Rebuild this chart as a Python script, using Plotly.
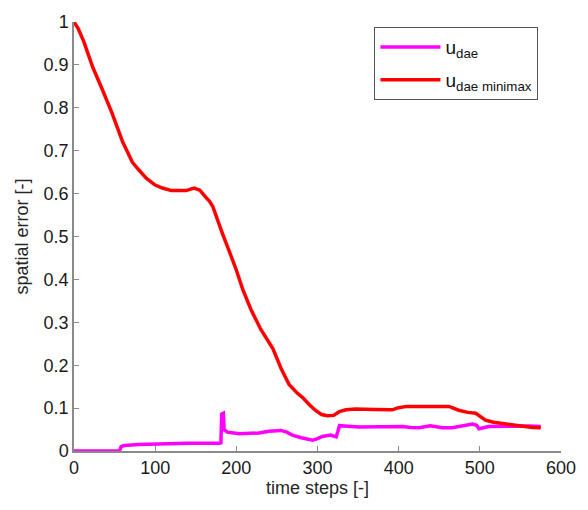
import plotly.graph_objects as go

# Red curve: u_dae minimax
red_x = [0, 5, 12, 23, 35, 47, 60, 72, 80, 89, 100, 109, 120, 130, 138, 148, 155, 163, 167, 171,
         175, 183, 191, 200, 208, 218, 230, 245, 255, 265, 275, 282, 290, 298, 305, 312, 320, 327,
         335, 347, 370, 392, 400, 410, 440, 462, 474, 485, 495, 507, 517, 528, 540, 552, 565, 575]
red_y = [1.0, 0.985, 0.955, 0.895, 0.842, 0.787, 0.72, 0.673, 0.655, 0.636, 0.62, 0.613, 0.607,
         0.607, 0.607, 0.613, 0.608, 0.590, 0.582, 0.570, 0.548, 0.506, 0.467, 0.422, 0.376, 0.330,
         0.284, 0.239, 0.193, 0.155, 0.135, 0.124, 0.108, 0.094, 0.085, 0.082, 0.083, 0.092, 0.096,
         0.098, 0.097, 0.096, 0.101, 0.104, 0.104, 0.104, 0.095, 0.090, 0.088, 0.072, 0.067, 0.064,
         0.060, 0.057, 0.055, 0.054]

# Magenta curve: u_dae
mag_x = [0, 56, 58, 62, 80, 105, 140, 179, 181, 182, 184, 185, 189, 204, 228, 240, 255, 262, 269,
         280, 294, 300, 306, 316, 323, 325, 327, 351, 370, 392, 405, 415, 425, 439, 454, 466, 480,
         491, 496, 499, 511, 530, 544, 560, 575]
mag_y = [0.0, 0.0, 0.01, 0.013, 0.015, 0.017, 0.018, 0.018, 0.019, 0.086, 0.088, 0.05, 0.044, 0.040,
         0.042, 0.046, 0.048, 0.044, 0.037, 0.031, 0.025, 0.029, 0.034, 0.037, 0.033, 0.045, 0.059,
         0.056, 0.057, 0.058, 0.057, 0.055, 0.054, 0.059, 0.054, 0.054, 0.058, 0.063, 0.060, 0.052,
         0.057, 0.058, 0.059, 0.058, 0.057]

x_ticks = [0, 100, 200, 300, 400, 500, 600]
y_ticks = [0, 0.1, 0.2, 0.3, 0.4, 0.5, 0.6, 0.7, 0.8, 0.9, 1]

FONT = "Liberation Sans, Arial, sans-serif"

fig = go.Figure()
fig.add_trace(go.Scatter(x=mag_x, y=mag_y, mode="lines", name="u<sub>dae</sub>",
                         legendgroup="a",
                         line=dict(color="#FF00FF", width=3.5)))
fig.add_trace(go.Scatter(x=red_x, y=red_y, mode="lines", name="u<sub>dae minimax</sub>",
                         legendgroup="b",
                         line=dict(color="#FF0000", width=3.5)))

axis_common = dict(
    showline=True, linecolor="#8a8a8a", linewidth=1.5,
    ticks="inside", ticklen=5, tickcolor="#8a8a8a", tickwidth=1.2,
    showgrid=False, zeroline=False, mirror=False,
    tickfont=dict(family=FONT, size=18, color="#1a1a1a"),
)

fig.update_layout(
    width=588, height=510,
    margin=dict(l=74, r=26, t=13, b=59),
    paper_bgcolor="white", plot_bgcolor="white",
    font=dict(family=FONT, color="#1a1a1a"),
    xaxis=dict(range=[0, 600], tickvals=x_ticks,
               title=dict(text="time steps [-]", font=dict(family=FONT, size=18, color="#262626"),
                          standoff=3),
               **axis_common),
    yaxis=dict(range=[0, 1], tickvals=y_ticks,
               title=dict(text="spatial error [-]", font=dict(family=FONT, size=18, color="#262626"),
                          standoff=10),
               **axis_common),
    legend=dict(x=0.617, y=0.988, xanchor="left", yanchor="top",
                bgcolor="white", bordercolor="#555555", borderwidth=1,
                font=dict(family=FONT, size=19, color="#111111"),
                itemwidth=60, tracegroupgap=5),
    showlegend=True,
)

fig.write_html("out.html")
